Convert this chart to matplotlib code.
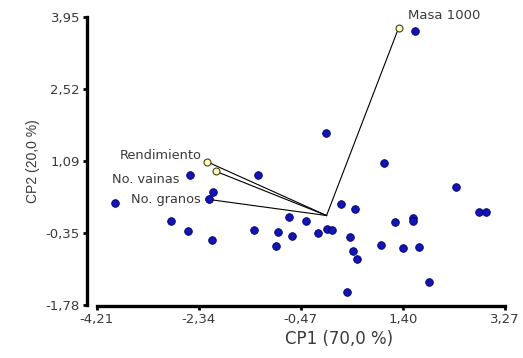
"""
Biplot CP1 vs CP2 (observaciones + variables)
"""
import matplotlib
matplotlib.use('Agg')
import matplotlib.pyplot as plt

# ==================== Datos ====================
obs_x = [1.62, -0.01, 1.05, -1.25, -2.51, -2.08, -2.16, -3.88, -2.85, -2.53,
         -2.09, -1.33, -0.89, -0.92, -0.68, -0.38, -0.64, -0.16, 0.01, 0.10,
         0.27, 0.53, 0.43, 0.48, 0.55, 0.37, 1.00, 1.25, 1.58, 1.58,
         1.41, 1.69, 1.87, 2.37, 2.79, 2.92]
obs_y = [3.67, 1.65, 1.05, 0.81, 0.81, 0.46, 0.32, 0.25, -0.11, -0.31,
         -0.48, -0.29, -0.32, -0.61, -0.02, -0.11, -0.40, -0.34, -0.27, -0.29,
         0.22, 0.12, -0.43, -0.71, -0.87, -1.53, -0.59, -0.13, -0.05, -0.11,
         -0.64, -0.62, -1.32, 0.57, 0.07, 0.07]

var_names = ['Masa 1000', 'Rendimiento', 'No. vainas', 'No. granos']
var_x = [1.32, -2.19, -2.03, -2.16]
var_y = [3.73, 1.07, 0.88, 0.32]

xticks = [-4.21, -2.34, -0.47, 1.40, 3.27]
yticks = [-1.78, -0.35, 1.09, 2.52, 3.95]

TXT = '#3a3a3a'
# la imagen original esta estirada en horizontal: textos horizontales en DejaVu (mas ancha)
plt.rcParams['font.family'] = ['DejaVu Sans']

fig = plt.figure(figsize=(5.23, 3.58), dpi=100)
ax = fig.add_axes([0.1663, 0.1453, 0.8024, 0.8072])

# vectores de variables
for vx, vy in zip(var_x, var_y):
    ax.plot([0, vx], [0, vy], color='black', lw=0.8, zorder=2)
ax.plot(var_x, var_y, 'o', ms=5, mfc='#ffffc0', mec='#404020', mew=0.8, zorder=3)

# observaciones
ax.plot(obs_x, obs_y, 'o', ms=5.5, mfc='#1414b4', mec='#00006a', mew=0.6, zorder=4)

# etiquetas de variables
ax.text(1.50, 3.97, var_names[0], ha='left', va='center', fontsize=9.5,
        color=TXT, clip_on=False)
ax.text(-2.29, 1.20, var_names[1], ha='right', va='center', fontsize=9.3, color=TXT)
ax.text(-2.69, 0.72, var_names[2], ha='right', va='center', fontsize=9.3, color=TXT)
ax.text(-2.31, 0.31, var_names[3], ha='right', va='center', fontsize=9.3, color=TXT)

ax.set_xlim(-4.39, 3.30)
ax.set_ylim(-1.80, 3.95)
ax.set_xticks(xticks)
ax.set_xticklabels([f'{t:.2f}'.replace('.', ',') for t in xticks])
ax.set_yticks(yticks)
ax.set_yticklabels([f'{t:.2f}'.replace('.', ',') for t in yticks])

for s in ['top', 'right']:
    ax.spines[s].set_visible(False)
for s in ['left', 'bottom']:
    ax.spines[s].set_linewidth(2.4)
ax.spines['bottom'].set_bounds(-4.21, 3.27)
ax.spines['left'].set_bounds(-1.78, 3.95)
ax.tick_params(direction='out', length=3, width=2, labelsize=9.5, labelcolor=TXT, pad=2)

ax.set_xlabel('CP1 (70,0 %)', fontsize=12, color=TXT)
ax.set_ylabel('CP2 (20,0 %)', fontsize=10, color=TXT,
              family=['Liberation Sans', 'DejaVu Sans'])
ax.xaxis.set_label_coords(0.60, -0.083)
ax.yaxis.set_label_coords(-0.112, 0.5)

fig.savefig('out.png', dpi=100)
